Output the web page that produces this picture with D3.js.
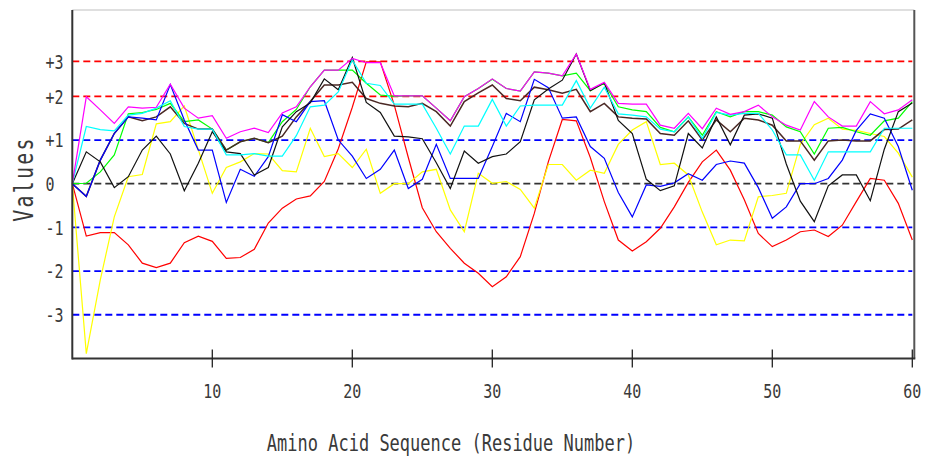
<!DOCTYPE html>
<html><head><meta charset="utf-8">
<script src="https://cdn.jsdelivr.net/npm/d3@7"></script>
<style>html,body{margin:0;padding:0;background:#fff;}svg{display:block;}</style>
</head><body>
<svg id="chart" width="929" height="458"></svg>
<script>
// ---- data (residue index 0..60) ----
const residues = d3.range(0, 61);
const red = [0,-1.2,-1.12,-1.12,-1.4,-1.82,-1.92,-1.82,-1.35,-1.2,-1.32,-1.71,-1.69,-1.5,-0.9,-0.56,-0.35,-0.28,0.05,0.8,1.75,2.79,2.79,1.8,0.6,-0.55,-1.1,-1.48,-1.82,-2.05,-2.36,-2.13,-1.67,-0.68,0.5,1.47,1.44,0.6,-0.41,-1.29,-1.54,-1.33,-1.02,-0.53,0.03,0.5,0.77,0.31,-0.37,-1.14,-1.44,-1.29,-1.1,-1.06,-1.21,-0.95,-0.41,0.12,0.08,-0.45,-1.29];
const yellow = [0,-3.89,-2.2,-0.76,0.16,0.21,1.37,1.42,1.78,0.78,-0.22,0.37,0.5,0.69,0.68,0.3,0.27,1.27,0.62,0.69,0.37,0.79,-0.22,0,0,0.27,0.33,-0.6,-1.1,0.24,0.01,0.05,-0.13,-0.56,0.44,0.44,0.08,0.31,0.24,0.9,1.23,1.42,0.44,0.47,0.2,-0.65,-1.4,-1.29,-1.31,-0.3,-0.27,-0.22,0.9,1.35,1.5,1.25,1.22,1.15,1.08,0.7,0.15];
const blue = [0,-0.29,0.54,1.15,1.53,1.5,1.46,2.27,1.46,0.77,0.77,-0.43,0.33,0.17,0.62,1.58,1.42,1.88,1.9,1.0,0.63,0.12,0.33,0.77,-0.11,0.1,0.9,0.12,0.12,0.12,0.85,1.61,1.42,2.39,2.2,1.5,1.53,0.85,0.58,-0.2,-0.76,-0.03,-0.06,0.02,0.23,0.08,0.44,0.52,0.47,-0.09,-0.79,-0.53,0,0,0.12,0.54,1.22,1.6,1.5,0.85,-0.15];
const black = [0,0.73,0.5,-0.09,0.16,0.77,1.09,0.68,-0.16,0.47,1.19,0.73,0.69,0.2,0.37,1.3,1.65,1.85,2.4,2.15,2.89,1.86,1.63,1.09,1.07,1.03,0.48,-0.11,0.75,0.47,0.62,0.68,0.96,1.92,2.17,2.37,2.97,2.13,2.31,1.45,1.15,0.1,-0.16,-0.05,1.15,0.82,1.53,0.89,1.57,1.6,1.5,0.45,-0.4,-0.87,-0.05,0.2,0.2,-0.39,0.79,1.65,1.85];
const cyan = [0,1.31,1.24,1.21,1.57,1.61,1.73,1.9,1.31,1.25,1.25,0.66,0.66,0.69,0.63,0.63,1.1,1.76,1.8,2.1,2.83,2.3,2.25,1.82,1.82,1.82,1.27,0.68,1.32,1.32,1.93,1.32,1.78,1.8,1.8,1.8,2.36,1.73,2.21,1.6,1.57,1.53,1.25,1.19,1.53,1.04,1.63,1.57,1.61,1.61,1.23,0.66,0.66,0.08,0.73,0.73,0.73,0.73,1.27,1.27,1.27];
const green = [0,0.01,0.27,0.66,1.6,1.63,1.7,1.84,1.42,1.46,1.25,0.77,0.96,1.04,0.94,1.42,1.7,2.22,2.6,2.6,2.6,2.3,2.03,2.0,2.01,2.01,1.73,1.44,1.99,2.18,2.39,2.18,2.12,2.56,2.53,2.47,2.53,2.13,2.3,1.76,1.69,1.65,1.29,1.19,1.53,1.11,1.65,1.53,1.65,1.65,1.57,1.3,1.19,0.68,1.27,1.29,1.19,1.11,1.44,1.5,1.88];
const magenta = [0,1.99,1.69,1.38,1.76,1.73,1.75,2.28,1.73,1.5,1.56,1.04,1.19,1.27,1.17,1.62,1.76,2.22,2.6,2.6,2.87,2.77,2.77,2.01,2.01,2.01,1.73,1.44,1.99,2.18,2.4,2.18,2.12,2.56,2.53,2.47,2.97,2.16,2.32,1.84,1.82,1.82,1.34,1.27,1.61,1.26,1.73,1.59,1.65,1.8,1.53,1.34,1.23,1.88,1.53,1.32,1.32,1.88,1.6,1.69,1.92];
const brown = [0,-0.29,0.54,1.15,1.53,1.44,1.53,1.76,1.38,1.25,1.25,0.77,0.96,1.04,0.94,1.09,1.53,1.88,2.26,2.26,2.32,1.95,1.84,1.78,1.76,1.84,1.65,1.32,1.88,2.08,2.26,1.95,1.9,2.21,2.15,2.07,2.16,1.65,1.84,1.53,1.5,1.48,1.15,1.11,1.44,1.0,1.46,1.19,1.5,1.46,1.34,0.98,0.98,0.54,0.98,1.0,0.98,0.98,1.24,1.25,1.46];

const xTicks = [10, 20, 30, 40, 50, 60];
const refValues = [2.8, 2, 1, 0, -1, -2, -3];
const refLabels = ["+3", "+2", "+1", "0", "-1", "-2", "-3"];
const refColors = ["#ff0000", "#ff0000", "#0000ff", "#333333", "#0000ff", "#0000ff", "#0000ff"];

const seriesList = [
  {name: "red", values: red, color: "#ff0000", w: 1.2},
  {name: "yellow", values: yellow, color: "#ffff00", w: 1.2},
  {name: "green", values: green, color: "#00ff00", w: 1.2},
  {name: "brown", values: brown, color: "#4a2824", w: 1.5},
  {name: "blue", values: blue, color: "#0000ff", w: 1.2},
  {name: "black", values: black, color: "#111111", w: 1.2},
  {name: "cyan", values: cyan, color: "#00ffff", w: 1.2},
  {name: "magenta", values: magenta, color: "#ff00ff", w: 1.2}
];

// ---- layout ----
const svg = d3.select("#chart");
const x = d3.scaleLinear().domain([0, 60]).range([72.3, 912.3]);
const y = d3.scaleLinear().domain([-4, 4]).range([358.4, 9]);
const FONT = "'DejaVu Sans Mono', monospace";
const SY = 1.35;
const TXT = "#3a3a3a";

// frame
svg.append("line").attr("x1", x(0)).attr("x2", x(60) + 2).attr("y1", 10).attr("y2", 10)
  .attr("stroke", "#d4d4d4").attr("stroke-width", 1.5);
svg.append("line").attr("x1", x(60) + 2).attr("x2", x(60) + 2).attr("y1", 10).attr("y2", y(-4))
  .attr("stroke", "#555").attr("stroke-width", 2);

// reference dashed lines
svg.append("g").selectAll("line").data(refValues).join("line")
  .attr("x1", x(0)).attr("x2", x(60))
  .attr("y1", d => y(d)).attr("y2", d => y(d))
  .attr("stroke", (d, i) => refColors[i])
  .attr("stroke-width", 1.8)
  .attr("stroke-dasharray", "7,4");

// series lines
const line = d3.line().x((d, i) => x(residues[i])).y(d => y(d));
svg.append("g").selectAll("path").data(seriesList).join("path")
  .attr("d", s => line(s.values))
  .attr("fill", "none")
  .attr("stroke", s => s.color)
  .attr("stroke-width", s => s.w)
  .attr("stroke-linejoin", "miter");

// axes
svg.append("line").attr("x1", x(0)).attr("x2", x(0)).attr("y1", 10).attr("y2", y(-4) + 1)
  .attr("stroke", "#333").attr("stroke-width", 2);
svg.append("line").attr("x1", x(0)).attr("x2", x(60) + 3).attr("y1", y(-4)).attr("y2", y(-4))
  .attr("stroke", "#333").attr("stroke-width", 2);

const xt = svg.append("g");
xt.selectAll("line").data(xTicks).join("line")
  .attr("x1", d => x(d)).attr("x2", d => x(d))
  .attr("y1", y(-4) - 9).attr("y2", y(-4) + 9)
  .attr("stroke", "#222").attr("stroke-width", 1.3);
xt.selectAll("text").data(xTicks).join("text")
  .attr("transform", d => `translate(${x(d)},398) scale(1,${SY})`)
  .attr("text-anchor", "middle")
  .attr("font-family", FONT).attr("font-size", 15).attr("fill", TXT)
  .text(d => d);

// y labels
svg.append("g").selectAll("text").data(refValues).join("text")
  .attr("transform", d => `translate(45.5,${y(d) + 7.4}) scale(1,${SY})`)
  .attr("text-anchor", "start")
  .attr("font-family", FONT).attr("font-size", 15).attr("fill", TXT)
  .text((d, i) => refLabels[i]);

// axis titles
svg.append("text")
  .attr("transform", `translate(451,450.5) scale(1,${SY})`)
  .attr("text-anchor", "middle")
  .attr("font-family", FONT).attr("font-size", 17).attr("fill", TXT)
  .text("Amino Acid Sequence (Residue Number)");
svg.append("text")
  .attr("transform", `translate(33,179) rotate(-90) scale(1,1.3)`)
  .attr("text-anchor", "middle")
  .attr("font-family", FONT).attr("font-size", 20).attr("letter-spacing", 2.2).attr("fill", TXT)
  .text("Values");
</script>
</body></html>
